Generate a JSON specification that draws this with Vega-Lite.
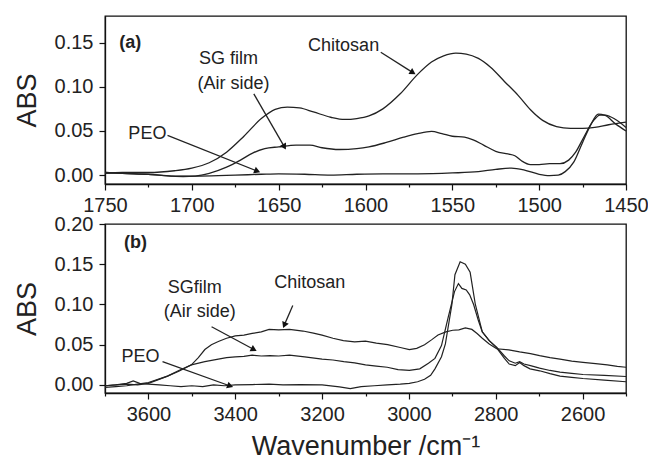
{
  "$schema": "https://vega.github.io/schema/vega-lite/v6.json",
  "padding": {"left": 12, "top": 15, "right": 0, "bottom": 0},
  "bounds": "flush",
  "spacing": 40,
  "background": "white",
  "config": {
    "font": "Liberation Sans",
    "view": {"stroke": "#111", "strokeWidth": 1.3},
    "axis": {
      "grid": false,
      "domainColor": "#111",
      "domainWidth": 1.3,
      "tickColor": "#111",
      "tickWidth": 1.2,
      "tickSize": 6,
      "labelColor": "#222",
      "labelFont": "Liberation Sans",
      "labelFontSize": 20,
      "labelPadding": 6,
      "titleColor": "#222",
      "titleFont": "Liberation Sans",
      "titleFontSize": 27,
      "titleFontWeight": "normal"
    },
    "line": {"color": "#222", "strokeWidth": 1.3},
    "text": {"font": "Liberation Sans", "fontSize": 18, "color": "#222"},
    "rule": {"color": "#222", "strokeWidth": 1.3}
  },
  "datasets": {
    "specA": [
      {"wn": 1750, "abs": 0.002, "series": "Chitosan"},
      {"wn": 1740, "abs": 0.003, "series": "Chitosan"},
      {"wn": 1725, "abs": 0.003, "series": "Chitosan"},
      {"wn": 1710, "abs": 0.005, "series": "Chitosan"},
      {"wn": 1700, "abs": 0.008, "series": "Chitosan"},
      {"wn": 1690, "abs": 0.014, "series": "Chitosan"},
      {"wn": 1680, "abs": 0.026, "series": "Chitosan"},
      {"wn": 1670, "abs": 0.044, "series": "Chitosan"},
      {"wn": 1660, "abs": 0.064, "series": "Chitosan"},
      {"wn": 1652, "abs": 0.0745, "series": "Chitosan"},
      {"wn": 1645, "abs": 0.077, "series": "Chitosan"},
      {"wn": 1638, "abs": 0.076, "series": "Chitosan"},
      {"wn": 1630, "abs": 0.0715, "series": "Chitosan"},
      {"wn": 1620, "abs": 0.0655, "series": "Chitosan"},
      {"wn": 1612, "abs": 0.063, "series": "Chitosan"},
      {"wn": 1605, "abs": 0.064, "series": "Chitosan"},
      {"wn": 1598, "abs": 0.067, "series": "Chitosan"},
      {"wn": 1590, "abs": 0.075, "series": "Chitosan"},
      {"wn": 1580, "abs": 0.092, "series": "Chitosan"},
      {"wn": 1570, "abs": 0.114, "series": "Chitosan"},
      {"wn": 1562, "abs": 0.128, "series": "Chitosan"},
      {"wn": 1555, "abs": 0.135, "series": "Chitosan"},
      {"wn": 1548, "abs": 0.138, "series": "Chitosan"},
      {"wn": 1542, "abs": 0.137, "series": "Chitosan"},
      {"wn": 1535, "abs": 0.132, "series": "Chitosan"},
      {"wn": 1528, "abs": 0.122, "series": "Chitosan"},
      {"wn": 1520, "abs": 0.106, "series": "Chitosan"},
      {"wn": 1512, "abs": 0.09, "series": "Chitosan"},
      {"wn": 1505, "abs": 0.074, "series": "Chitosan"},
      {"wn": 1498, "abs": 0.062, "series": "Chitosan"},
      {"wn": 1490, "abs": 0.055, "series": "Chitosan"},
      {"wn": 1482, "abs": 0.053, "series": "Chitosan"},
      {"wn": 1475, "abs": 0.053, "series": "Chitosan"},
      {"wn": 1468, "abs": 0.054, "series": "Chitosan"},
      {"wn": 1460, "abs": 0.057, "series": "Chitosan"},
      {"wn": 1450, "abs": 0.06, "series": "Chitosan"},

      {"wn": 1750, "abs": 0.003, "series": "SG"},
      {"wn": 1740, "abs": 0.002, "series": "SG"},
      {"wn": 1725, "abs": 0.001, "series": "SG"},
      {"wn": 1712, "abs": -0.001, "series": "SG"},
      {"wn": 1705, "abs": -0.0015, "series": "SG"},
      {"wn": 1698, "abs": -0.001, "series": "SG"},
      {"wn": 1690, "abs": 0.002, "series": "SG"},
      {"wn": 1680, "abs": 0.009, "series": "SG"},
      {"wn": 1672, "abs": 0.017, "series": "SG"},
      {"wn": 1665, "abs": 0.025, "series": "SG"},
      {"wn": 1658, "abs": 0.03, "series": "SG"},
      {"wn": 1650, "abs": 0.032, "series": "SG"},
      {"wn": 1640, "abs": 0.034, "series": "SG"},
      {"wn": 1632, "abs": 0.034, "series": "SG"},
      {"wn": 1625, "abs": 0.031, "series": "SG"},
      {"wn": 1615, "abs": 0.029, "series": "SG"},
      {"wn": 1605, "abs": 0.03, "series": "SG"},
      {"wn": 1598, "abs": 0.032, "series": "SG"},
      {"wn": 1588, "abs": 0.037, "series": "SG"},
      {"wn": 1578, "abs": 0.043, "series": "SG"},
      {"wn": 1570, "abs": 0.047, "series": "SG"},
      {"wn": 1562, "abs": 0.0495, "series": "SG"},
      {"wn": 1556, "abs": 0.047, "series": "SG"},
      {"wn": 1550, "abs": 0.044, "series": "SG"},
      {"wn": 1543, "abs": 0.043, "series": "SG"},
      {"wn": 1538, "abs": 0.04, "series": "SG"},
      {"wn": 1532, "abs": 0.034, "series": "SG"},
      {"wn": 1525, "abs": 0.027, "series": "SG"},
      {"wn": 1518, "abs": 0.024, "series": "SG"},
      {"wn": 1514, "abs": 0.022, "series": "SG"},
      {"wn": 1510, "abs": 0.016, "series": "SG"},
      {"wn": 1505, "abs": 0.012, "series": "SG"},
      {"wn": 1500, "abs": 0.012, "series": "SG"},
      {"wn": 1494, "abs": 0.013, "series": "SG"},
      {"wn": 1488, "abs": 0.013, "series": "SG"},
      {"wn": 1483, "abs": 0.017, "series": "SG"},
      {"wn": 1479, "abs": 0.026, "series": "SG"},
      {"wn": 1474, "abs": 0.044, "series": "SG"},
      {"wn": 1469, "abs": 0.061, "series": "SG"},
      {"wn": 1465, "abs": 0.068, "series": "SG"},
      {"wn": 1462, "abs": 0.068, "series": "SG"},
      {"wn": 1456, "abs": 0.063, "series": "SG"},
      {"wn": 1450, "abs": 0.054, "series": "SG"},

      {"wn": 1750, "abs": 0.003, "series": "PEO"},
      {"wn": 1740, "abs": 0.002, "series": "PEO"},
      {"wn": 1725, "abs": 0.001, "series": "PEO"},
      {"wn": 1710, "abs": -0.001, "series": "PEO"},
      {"wn": 1695, "abs": -0.001, "series": "PEO"},
      {"wn": 1675, "abs": 0.0, "series": "PEO"},
      {"wn": 1660, "abs": 0.001, "series": "PEO"},
      {"wn": 1650, "abs": 0.0015, "series": "PEO"},
      {"wn": 1635, "abs": 0.001, "series": "PEO"},
      {"wn": 1620, "abs": 0.0, "series": "PEO"},
      {"wn": 1605, "abs": 0.001, "series": "PEO"},
      {"wn": 1590, "abs": 0.0015, "series": "PEO"},
      {"wn": 1570, "abs": 0.0015, "series": "PEO"},
      {"wn": 1550, "abs": 0.0025, "series": "PEO"},
      {"wn": 1535, "abs": 0.004, "series": "PEO"},
      {"wn": 1525, "abs": 0.0065, "series": "PEO"},
      {"wn": 1516, "abs": 0.008, "series": "PEO"},
      {"wn": 1508, "abs": 0.0055, "series": "PEO"},
      {"wn": 1500, "abs": 0.001, "series": "PEO"},
      {"wn": 1494, "abs": -0.0005, "series": "PEO"},
      {"wn": 1489, "abs": 0.0, "series": "PEO"},
      {"wn": 1485, "abs": 0.004, "series": "PEO"},
      {"wn": 1480, "abs": 0.015, "series": "PEO"},
      {"wn": 1475, "abs": 0.037, "series": "PEO"},
      {"wn": 1470, "abs": 0.058, "series": "PEO"},
      {"wn": 1466, "abs": 0.069, "series": "PEO"},
      {"wn": 1462, "abs": 0.0675, "series": "PEO"},
      {"wn": 1456, "abs": 0.058, "series": "PEO"},
      {"wn": 1450, "abs": 0.05, "series": "PEO"}
    ],
    "specB": [
      {"wn": 3700, "abs": -0.003, "series": "Chitosan"},
      {"wn": 3675, "abs": -0.002, "series": "Chitosan"},
      {"wn": 3650, "abs": -0.001, "series": "Chitosan"},
      {"wn": 3625, "abs": 0.001, "series": "Chitosan"},
      {"wn": 3600, "abs": 0.003, "series": "Chitosan"},
      {"wn": 3578, "abs": 0.007, "series": "Chitosan"},
      {"wn": 3556, "abs": 0.011, "series": "Chitosan"},
      {"wn": 3530, "abs": 0.017, "series": "Chitosan"},
      {"wn": 3501, "abs": 0.025, "series": "Chitosan"},
      {"wn": 3485, "abs": 0.034, "series": "Chitosan"},
      {"wn": 3470, "abs": 0.044, "series": "Chitosan"},
      {"wn": 3455, "abs": 0.05, "series": "Chitosan"},
      {"wn": 3439, "abs": 0.054, "series": "Chitosan"},
      {"wn": 3420, "abs": 0.058, "series": "Chitosan"},
      {"wn": 3400, "abs": 0.061, "series": "Chitosan"},
      {"wn": 3380, "abs": 0.062, "series": "Chitosan"},
      {"wn": 3361, "abs": 0.064, "series": "Chitosan"},
      {"wn": 3340, "abs": 0.066, "series": "Chitosan"},
      {"wn": 3322, "abs": 0.069, "series": "Chitosan"},
      {"wn": 3300, "abs": 0.0685, "series": "Chitosan"},
      {"wn": 3275, "abs": 0.069, "series": "Chitosan"},
      {"wn": 3244, "abs": 0.067, "series": "Chitosan"},
      {"wn": 3220, "abs": 0.0645, "series": "Chitosan"},
      {"wn": 3200, "abs": 0.062, "series": "Chitosan"},
      {"wn": 3175, "abs": 0.058, "series": "Chitosan"},
      {"wn": 3151, "abs": 0.055, "series": "Chitosan"},
      {"wn": 3125, "abs": 0.0535, "series": "Chitosan"},
      {"wn": 3100, "abs": 0.0545, "series": "Chitosan"},
      {"wn": 3075, "abs": 0.052, "series": "Chitosan"},
      {"wn": 3049, "abs": 0.05, "series": "Chitosan"},
      {"wn": 3020, "abs": 0.0465, "series": "Chitosan"},
      {"wn": 2999, "abs": 0.044, "series": "Chitosan"},
      {"wn": 2982, "abs": 0.0455, "series": "Chitosan"},
      {"wn": 2964, "abs": 0.05, "series": "Chitosan"},
      {"wn": 2948, "abs": 0.056, "series": "Chitosan"},
      {"wn": 2933, "abs": 0.062, "series": "Chitosan"},
      {"wn": 2915, "abs": 0.066, "series": "Chitosan"},
      {"wn": 2899, "abs": 0.068, "series": "Chitosan"},
      {"wn": 2885, "abs": 0.0685, "series": "Chitosan"},
      {"wn": 2870, "abs": 0.071, "series": "Chitosan"},
      {"wn": 2855, "abs": 0.069, "series": "Chitosan"},
      {"wn": 2843, "abs": 0.064, "series": "Chitosan"},
      {"wn": 2831, "abs": 0.058, "series": "Chitosan"},
      {"wn": 2815, "abs": 0.051, "series": "Chitosan"},
      {"wn": 2798, "abs": 0.045, "series": "Chitosan"},
      {"wn": 2770, "abs": 0.0435, "series": "Chitosan"},
      {"wn": 2745, "abs": 0.041, "series": "Chitosan"},
      {"wn": 2720, "abs": 0.039, "series": "Chitosan"},
      {"wn": 2699, "abs": 0.0365, "series": "Chitosan"},
      {"wn": 2675, "abs": 0.034, "series": "Chitosan"},
      {"wn": 2652, "abs": 0.032, "series": "Chitosan"},
      {"wn": 2625, "abs": 0.0295, "series": "Chitosan"},
      {"wn": 2599, "abs": 0.028, "series": "Chitosan"},
      {"wn": 2570, "abs": 0.0265, "series": "Chitosan"},
      {"wn": 2543, "abs": 0.025, "series": "Chitosan"},
      {"wn": 2520, "abs": 0.023, "series": "Chitosan"},
      {"wn": 2500, "abs": 0.022, "series": "Chitosan"},

      {"wn": 3700, "abs": -0.001, "series": "SG"},
      {"wn": 3675, "abs": 0.0, "series": "SG"},
      {"wn": 3650, "abs": 0.001, "series": "SG"},
      {"wn": 3625, "abs": 0.0, "series": "SG"},
      {"wn": 3600, "abs": 0.002, "series": "SG"},
      {"wn": 3580, "abs": 0.006, "series": "SG"},
      {"wn": 3556, "abs": 0.011, "series": "SG"},
      {"wn": 3530, "abs": 0.018, "series": "SG"},
      {"wn": 3501, "abs": 0.025, "series": "SG"},
      {"wn": 3470, "abs": 0.029, "series": "SG"},
      {"wn": 3439, "abs": 0.032, "series": "SG"},
      {"wn": 3420, "abs": 0.034, "series": "SG"},
      {"wn": 3400, "abs": 0.035, "series": "SG"},
      {"wn": 3380, "abs": 0.0355, "series": "SG"},
      {"wn": 3361, "abs": 0.037, "series": "SG"},
      {"wn": 3340, "abs": 0.036, "series": "SG"},
      {"wn": 3320, "abs": 0.0365, "series": "SG"},
      {"wn": 3300, "abs": 0.036, "series": "SG"},
      {"wn": 3275, "abs": 0.037, "series": "SG"},
      {"wn": 3240, "abs": 0.035, "series": "SG"},
      {"wn": 3200, "abs": 0.032, "series": "SG"},
      {"wn": 3175, "abs": 0.031, "series": "SG"},
      {"wn": 3150, "abs": 0.029, "series": "SG"},
      {"wn": 3125, "abs": 0.0275, "series": "SG"},
      {"wn": 3100, "abs": 0.025, "series": "SG"},
      {"wn": 3075, "abs": 0.0235, "series": "SG"},
      {"wn": 3050, "abs": 0.022, "series": "SG"},
      {"wn": 3025, "abs": 0.019, "series": "SG"},
      {"wn": 2999, "abs": 0.018, "series": "SG"},
      {"wn": 2975, "abs": 0.02, "series": "SG"},
      {"wn": 2955, "abs": 0.027, "series": "SG"},
      {"wn": 2940, "abs": 0.033, "series": "SG"},
      {"wn": 2925, "abs": 0.049, "series": "SG"},
      {"wn": 2910, "abs": 0.083, "series": "SG"},
      {"wn": 2895, "abs": 0.116, "series": "SG"},
      {"wn": 2886, "abs": 0.126, "series": "SG"},
      {"wn": 2878, "abs": 0.12, "series": "SG"},
      {"wn": 2868, "abs": 0.118, "series": "SG"},
      {"wn": 2860, "abs": 0.112, "series": "SG"},
      {"wn": 2851, "abs": 0.1, "series": "SG"},
      {"wn": 2840, "abs": 0.08, "series": "SG"},
      {"wn": 2831, "abs": 0.066, "series": "SG"},
      {"wn": 2815, "abs": 0.055, "series": "SG"},
      {"wn": 2798, "abs": 0.047, "series": "SG"},
      {"wn": 2780, "abs": 0.036, "series": "SG"},
      {"wn": 2769, "abs": 0.03, "series": "SG"},
      {"wn": 2755, "abs": 0.027, "series": "SG"},
      {"wn": 2745, "abs": 0.029, "series": "SG"},
      {"wn": 2735, "abs": 0.026, "series": "SG"},
      {"wn": 2720, "abs": 0.024, "series": "SG"},
      {"wn": 2699, "abs": 0.021, "series": "SG"},
      {"wn": 2675, "abs": 0.018, "series": "SG"},
      {"wn": 2652, "abs": 0.016, "series": "SG"},
      {"wn": 2625, "abs": 0.0145, "series": "SG"},
      {"wn": 2599, "abs": 0.013, "series": "SG"},
      {"wn": 2550, "abs": 0.012, "series": "SG"},
      {"wn": 2500, "abs": 0.0105, "series": "SG"},

      {"wn": 3700, "abs": -0.001, "series": "PEO"},
      {"wn": 3675, "abs": 0.0, "series": "PEO"},
      {"wn": 3650, "abs": 0.002, "series": "PEO"},
      {"wn": 3635, "abs": 0.005, "series": "PEO"},
      {"wn": 3620, "abs": 0.002, "series": "PEO"},
      {"wn": 3600, "abs": 0.001, "series": "PEO"},
      {"wn": 3575, "abs": 0.0, "series": "PEO"},
      {"wn": 3550, "abs": -0.001, "series": "PEO"},
      {"wn": 3525, "abs": -0.002, "series": "PEO"},
      {"wn": 3500, "abs": -0.001, "series": "PEO"},
      {"wn": 3475, "abs": -0.002, "series": "PEO"},
      {"wn": 3450, "abs": 0.0, "series": "PEO"},
      {"wn": 3425, "abs": -0.001, "series": "PEO"},
      {"wn": 3400, "abs": 0.0, "series": "PEO"},
      {"wn": 3360, "abs": 0.0005, "series": "PEO"},
      {"wn": 3322, "abs": 0.001, "series": "PEO"},
      {"wn": 3290, "abs": 0.0, "series": "PEO"},
      {"wn": 3250, "abs": 0.0005, "series": "PEO"},
      {"wn": 3200, "abs": 0.0, "series": "PEO"},
      {"wn": 3160, "abs": -0.0025, "series": "PEO"},
      {"wn": 3135, "abs": -0.0045, "series": "PEO"},
      {"wn": 3110, "abs": -0.002, "series": "PEO"},
      {"wn": 3080, "abs": -0.001, "series": "PEO"},
      {"wn": 3050, "abs": 0.0, "series": "PEO"},
      {"wn": 3020, "abs": 0.001, "series": "PEO"},
      {"wn": 2999, "abs": 0.002, "series": "PEO"},
      {"wn": 2980, "abs": 0.004, "series": "PEO"},
      {"wn": 2964, "abs": 0.007, "series": "PEO"},
      {"wn": 2950, "abs": 0.012, "series": "PEO"},
      {"wn": 2940, "abs": 0.02, "series": "PEO"},
      {"wn": 2925, "abs": 0.035, "series": "PEO"},
      {"wn": 2916, "abs": 0.051, "series": "PEO"},
      {"wn": 2901, "abs": 0.1, "series": "PEO"},
      {"wn": 2894, "abs": 0.137, "series": "PEO"},
      {"wn": 2882, "abs": 0.153, "series": "PEO"},
      {"wn": 2870, "abs": 0.15, "series": "PEO"},
      {"wn": 2859, "abs": 0.14, "series": "PEO"},
      {"wn": 2847, "abs": 0.1, "series": "PEO"},
      {"wn": 2831, "abs": 0.066, "series": "PEO"},
      {"wn": 2815, "abs": 0.055, "series": "PEO"},
      {"wn": 2798, "abs": 0.046, "series": "PEO"},
      {"wn": 2780, "abs": 0.033, "series": "PEO"},
      {"wn": 2769, "abs": 0.026, "series": "PEO"},
      {"wn": 2755, "abs": 0.024, "series": "PEO"},
      {"wn": 2745, "abs": 0.028, "series": "PEO"},
      {"wn": 2735, "abs": 0.024, "series": "PEO"},
      {"wn": 2721, "abs": 0.02, "series": "PEO"},
      {"wn": 2699, "abs": 0.0176, "series": "PEO"},
      {"wn": 2675, "abs": 0.014, "series": "PEO"},
      {"wn": 2652, "abs": 0.011, "series": "PEO"},
      {"wn": 2625, "abs": 0.0095, "series": "PEO"},
      {"wn": 2599, "abs": 0.008, "series": "PEO"},
      {"wn": 2550, "abs": 0.006, "series": "PEO"},
      {"wn": 2500, "abs": 0.004, "series": "PEO"}
    ],
    "labelsA": [
      {"wn": 1612.6, "abs": 0.146, "text": "Chitosan"},
      {"wn": 1678.9, "abs": 0.131, "text": "SG film"},
      {"wn": 1676, "abs": 0.103, "text": "(Air side)"},
      {"wn": 1725.6, "abs": 0.047, "text": "PEO"}
    ],
    "arrowsA": [
      {"id": "Chitosan", "wn": 1591.2, "abs": 0.139, "wn2": 1572.7, "abs2": 0.116},
      {"id": "SG", "wn": 1664.3, "abs": 0.092, "wn2": 1646.7, "abs2": 0.032},
      {"id": "PEO", "wn": 1714, "abs": 0.045, "wn2": 1662.3, "abs2": 0.0045}
    ],
    "labelsB": [
      {"wn": 3228.6, "abs": 0.127, "text": "Chitosan"},
      {"wn": 3493.5, "abs": 0.1206, "text": "SGfilm"},
      {"wn": 3481.8, "abs": 0.0912, "text": "(Air side)"},
      {"wn": 3618, "abs": 0.0345, "text": "PEO"}
    ],
    "arrowsB": [
      {"id": "Chitosan", "wn": 3267.5, "abs": 0.0987, "wn2": 3287, "abs2": 0.0744},
      {"id": "SG", "wn": 3454.5, "abs": 0.0723, "wn2": 3357, "abs2": 0.044},
      {"id": "PEO", "wn": 3567.5, "abs": 0.029, "wn2": 3411.7, "abs2": -0.0013}
    ],
    "panelA": [{"wn": 1735.4, "abs": 0.15, "text": "(a)"}],
    "panelB": [{"wn": 3630, "abs": 0.177, "text": "(b)"}]
  },
  "vconcat": [
    {
      "width": 521,
      "height": 168,
      "encoding": {
        "x": {
          "field": "wn", "type": "quantitative",
          "scale": {"domain": [1450, 1750], "reverse": true, "nice": false, "zero": false},
          "axis": {
            "title": null,
            "values": [1750, 1725, 1700, 1675, 1650, 1625, 1600, 1575, 1550, 1525, 1500, 1475, 1450],
            "labelExpr": "datum.value % 50 === 0 ? format(datum.value, 'd') : ''",
            "labelFlush": false,
            "labelOverlap": false,
            "labelPadding": 5,
            "tickSize": {"condition": {"test": "datum.value % 50 === 0", "value": 6}, "value": 3}
          }
        },
        "y": {
          "field": "abs", "type": "quantitative",
          "scale": {"domain": [-0.01, 0.18], "nice": false, "zero": false},
          "axis": {"title": "ABS", "values": [0, 0.05, 0.1, 0.15], "format": ".2f", "titlePadding": 13}
        }
      },
      "layer": [
        {"data": {"name": "specA"}, "mark": {"type": "line", "interpolate": "monotone"}, "encoding": {"detail": {"field": "series"}}},
        {"data": {"name": "labelsA"}, "mark": {"type": "text"}, "encoding": {"text": {"field": "text"}}},
        {"data": {"name": "panelA"}, "mark": {"type": "text", "fontWeight": "bold"}, "encoding": {"text": {"field": "text"}}},
        {"data": {"name": "arrowsA"}, "mark": {"type": "rule"}, "encoding": {"x2": {"field": "wn2"}, "y2": {"field": "abs2"}}},
        {"data": {"name": "arrowsA"}, "transform": [{"filter": "datum.id === 'Chitosan'"}], "mark": {"type": "point", "shape": "triangle-up", "filled": true, "opacity": 1, "color": "#111", "size": 50, "angle": 122}, "encoding": {"x": {"field": "wn2", "type": "quantitative"}, "y": {"field": "abs2", "type": "quantitative"}}},
        {"data": {"name": "arrowsA"}, "transform": [{"filter": "datum.id === 'SG'"}], "mark": {"type": "point", "shape": "triangle-up", "filled": true, "opacity": 1, "color": "#111", "size": 50, "angle": 151}, "encoding": {"x": {"field": "wn2", "type": "quantitative"}, "y": {"field": "abs2", "type": "quantitative"}}},
        {"data": {"name": "arrowsA"}, "transform": [{"filter": "datum.id === 'PEO'"}], "mark": {"type": "point", "shape": "triangle-up", "filled": true, "opacity": 1, "color": "#111", "size": 50, "angle": 112}, "encoding": {"x": {"field": "wn2", "type": "quantitative"}, "y": {"field": "abs2", "type": "quantitative"}}}
      ]
    },
    {
      "width": 521,
      "height": 169,
      "encoding": {
        "x": {
          "field": "wn", "type": "quantitative",
          "scale": {"domain": [2500, 3700], "reverse": true, "nice": false, "zero": false},
          "axis": {
            "title": "Wavenumber /cm⁻¹",
            "titlePadding": 9,
            "labelPadding": 5,
            "values": [3700, 3600, 3500, 3400, 3300, 3200, 3100, 3000, 2900, 2800, 2700, 2600, 2500],
            "labelExpr": "datum.value % 200 === 0 && datum.value > 2500 && datum.value < 3700 ? format(datum.value, 'd') : ''",
            "labelFlush": false,
            "labelOverlap": false,
            "tickSize": {"condition": {"test": "datum.value % 200 === 0", "value": 6}, "value": 3}
          }
        },
        "y": {
          "field": "abs", "type": "quantitative",
          "scale": {"domain": [-0.01, 0.2], "nice": false, "zero": false},
          "axis": {"title": "ABS", "values": [0, 0.05, 0.1, 0.15, 0.2], "format": ".2f", "titlePadding": 13}
        }
      },
      "layer": [
        {"data": {"name": "specB"}, "mark": {"type": "line", "interpolate": "linear", "strokeWidth": 1.2}, "encoding": {"detail": {"field": "series"}}},
        {"data": {"name": "labelsB"}, "mark": {"type": "text"}, "encoding": {"text": {"field": "text"}}},
        {"data": {"name": "panelB"}, "mark": {"type": "text", "fontWeight": "bold"}, "encoding": {"text": {"field": "text"}}},
        {"data": {"name": "arrowsB"}, "mark": {"type": "rule"}, "encoding": {"x2": {"field": "wn2"}, "y2": {"field": "abs2"}}},
        {"data": {"name": "arrowsB"}, "transform": [{"filter": "datum.id === 'Chitosan'"}], "mark": {"type": "point", "shape": "triangle-up", "filled": true, "opacity": 1, "color": "#111", "size": 50, "angle": 203}, "encoding": {"x": {"field": "wn2", "type": "quantitative"}, "y": {"field": "abs2", "type": "quantitative"}}},
        {"data": {"name": "arrowsB"}, "transform": [{"filter": "datum.id === 'SG'"}], "mark": {"type": "point", "shape": "triangle-up", "filled": true, "opacity": 1, "color": "#111", "size": 50, "angle": 118}, "encoding": {"x": {"field": "wn2", "type": "quantitative"}, "y": {"field": "abs2", "type": "quantitative"}}},
        {"data": {"name": "arrowsB"}, "transform": [{"filter": "datum.id === 'PEO'"}], "mark": {"type": "point", "shape": "triangle-up", "filled": true, "opacity": 1, "color": "#111", "size": 50, "angle": 110}, "encoding": {"x": {"field": "wn2", "type": "quantitative"}, "y": {"field": "abs2", "type": "quantitative"}}}
      ]
    }
  ]
}
